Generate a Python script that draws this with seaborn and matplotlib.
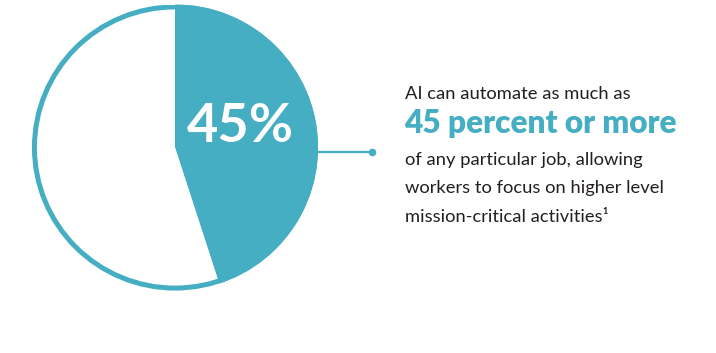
import matplotlib
matplotlib.use("Agg")
import matplotlib.pyplot as plt
import seaborn as sns
from matplotlib.patches import Circle

# Share of a job that can be automated
share_labels = ["Automatable", "Remaining"]
share_values = [45, 55]
headline = "45%"

intro_line = "AI can automate as much as"
highlight_line = "45 percent or more"
body_lines = [
    "of any particular job, allowing",
    "workers to focus on higher level",
    "mission-critical activities\u00b9",
]

TEAL = "#45aec2"
INK = "#231f20"
W, H = 716, 353

sns.set_theme(style="white")
plt.rcParams["font.family"] = ["Lato", "DejaVu Sans"]

fig = plt.figure(figsize=(W / 100, H / 100), dpi=100)
fig.patch.set_facecolor("white")

# pie placed by pixel centre / radius
cx, cy, r = 175, 147.5, 143
ax = fig.add_axes([(cx - r) / W, (H - cy - r) / H, 2 * r / W, 2 * r / H])
ax.pie(share_values, colors=[TEAL, "white"], startangle=90, counterclock=False,
       radius=1.0, wedgeprops=dict(linewidth=0))
ax.add_patch(Circle((0, 0), 0.983, fill=False, edgecolor=TEAL, linewidth=3.6))
ax.set_xlim(-1, 1)
ax.set_ylim(-1, 1)
ax.set_aspect("equal")
ax.axis("off")

ax.text(0.46, 0.15, headline, color="white", fontsize=39, fontweight="bold",
        ha="center", va="center")

# connector from the pie to the caption
y_conn = (cy - 152) / r
ax.plot([0.995, (372 - cx) / r], [y_conn, y_conn], color=TEAL, linewidth=1.6,
        clip_on=False, solid_capstyle="butt")
ax.plot([(372 - cx) / r], [y_conn], "o", color=TEAL, markersize=4.5, clip_on=False)

def ftext(x, y, s, **kw):
    fig.text(x / W, 1 - y / H, s, va="baseline", ha="left", **kw)

ftext(405, 99, intro_line, color=INK, fontsize=13.2)
ftext(404, 133, highlight_line, color=TEAL, fontsize=22.8, fontweight="heavy")
for i, line in enumerate(body_lines):
    ftext(405, 165 + i * 28.5, line, color=INK, fontsize=13.2)

fig.savefig("out.png", dpi=100, facecolor="white")
